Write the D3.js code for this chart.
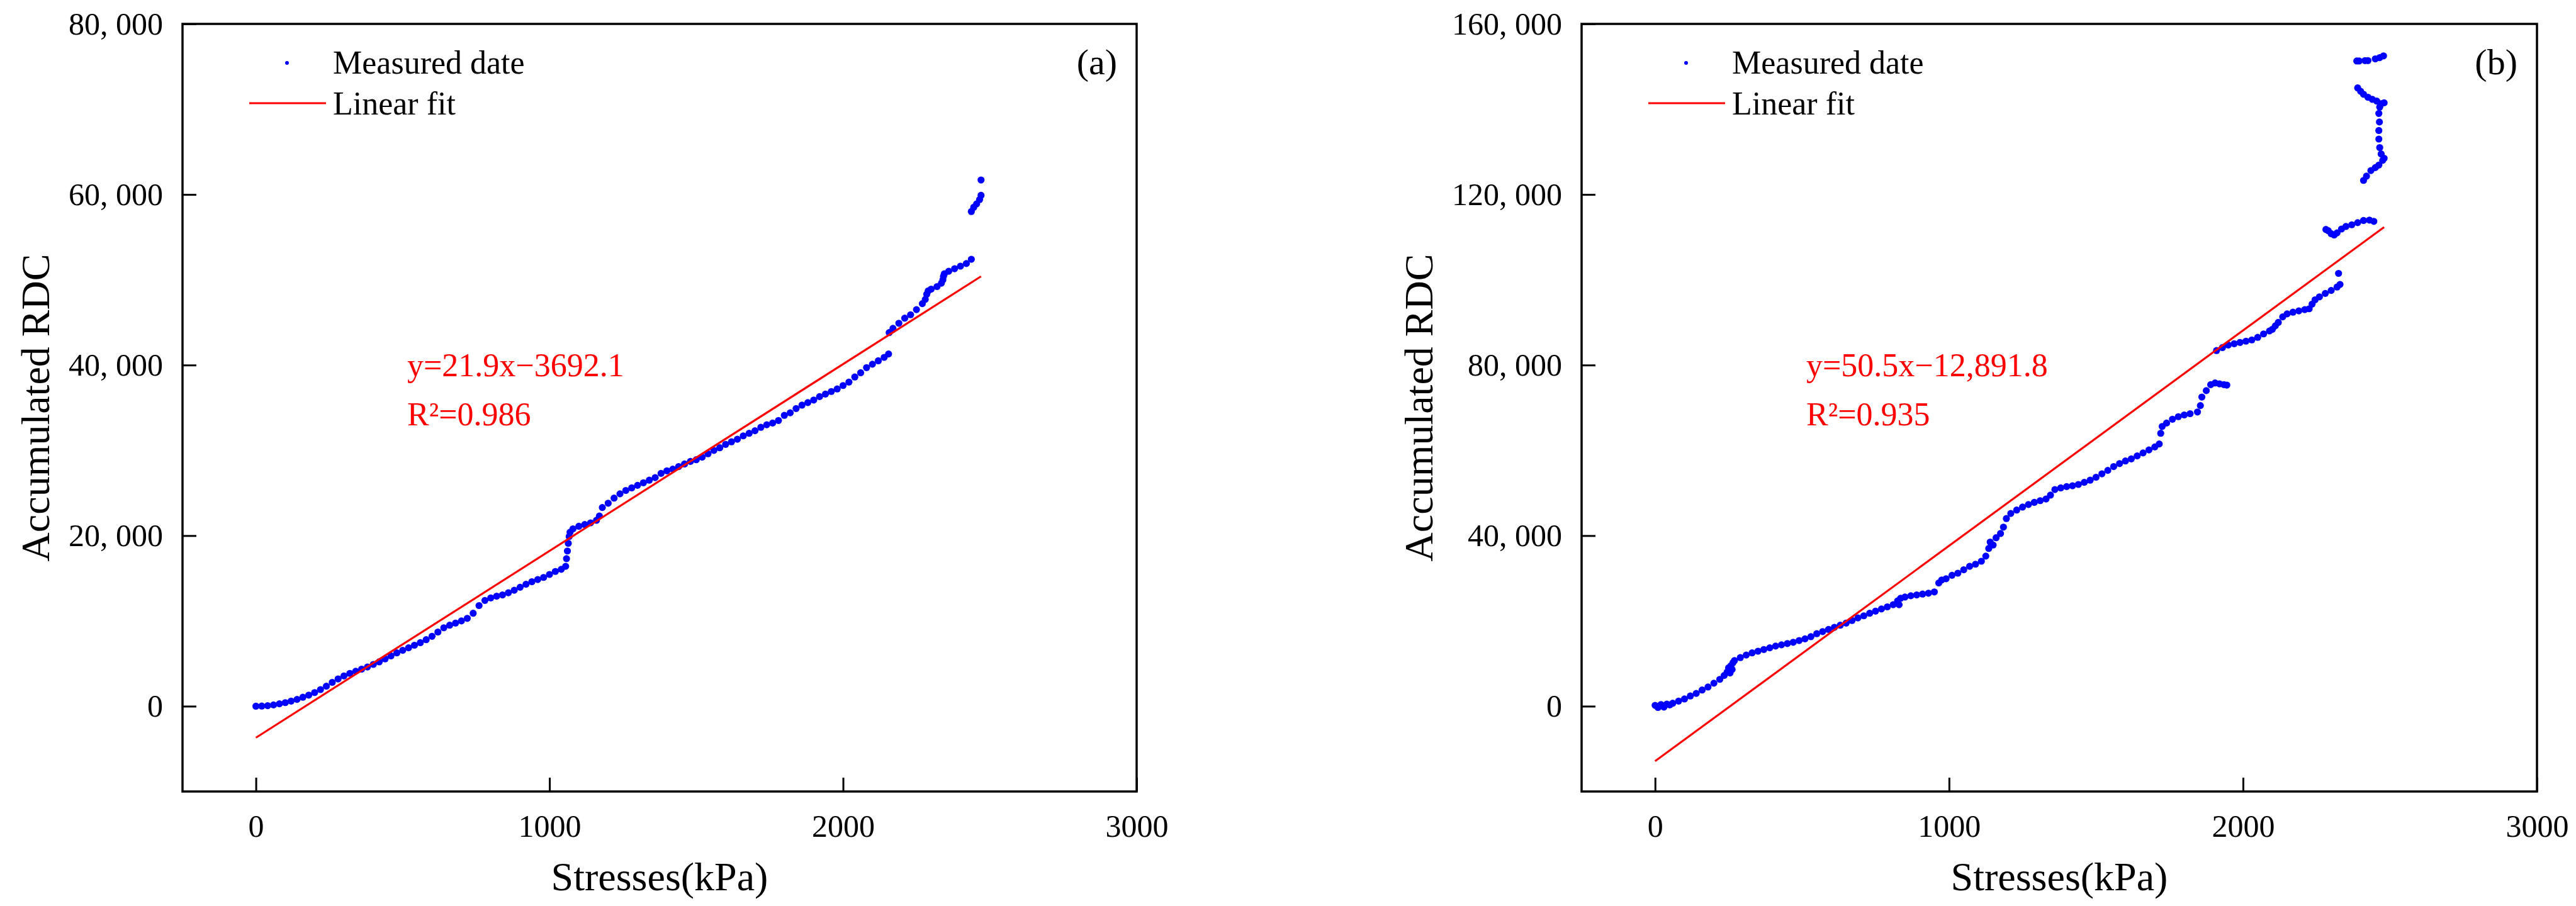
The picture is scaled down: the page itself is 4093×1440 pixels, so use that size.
<!DOCTYPE html>
<html>
<head>
<meta charset="utf-8">
<script src="https://cdnjs.cloudflare.com/ajax/libs/d3/7.8.5/d3.min.js"></script>
<style>
  html, body { margin: 0; padding: 0; background: #fff; }
  svg { display: block; }
  text { font-family: "Liberation Serif", "Times New Roman", serif; fill: #000; }
</style>
</head>
<body>
<script>
// ---------------- DATA ----------------
const xTicks = [0, 1000, 2000, 3000];
const yTicksA = [0, 20000, 40000, 60000, 80000];
const yTicksB = [0, 40000, 80000, 120000, 160000];
const xDomain = [-250, 3000];
const yDomainA = [-10000, 80000];
const yDomainB = [-20000, 160000];

const panelLabels = ["(a)", "(b)"];
const legendLabels = ["Measured date", "Linear fit"];
const xTitle = "Stresses(kPa)";
const yTitle = "Accumulated RDC";
const fitSlopes = [21.9, 50.5];
const fitIntercepts = [-3692.1, -12891.8];
const eqTexts = ["y=21.9x\u22123692.1", "y=50.5x\u221212,891.8"];
const r2Texts = ["R\u00B2=0.986", "R\u00B2=0.935"];

const stressA = [0,20,40,60,80,100,120,140,160,180,200,220,240,260,280,300,320,340,360,380,400,420,440,460,480,500,520,540,560,580,600,620,640,660,680,700,720,740,760,780,800,820,840,860,880,900,920,940,960,980,1000,1020,1040,1055,1058,1061,1064,1067,1070,1080,1100,1120,1140,1160,1170,1180,1200,1220,1240,1260,1280,1300,1320,1340,1360,1380,1400,1420,1440,1460,1480,1500,1520,1540,1560,1580,1600,1620,1640,1660,1680,1700,1720,1740,1760,1780,1800,1820,1840,1860,1880,1900,1920,1940,1960,1980,2000,2020,2040,2060,2080,2100,2120,2140,2155,2157,2170,2190,2210,2230,2250,2270,2280,2285,2290,2300,2320,2335,2340,2342,2345,2360,2380,2400,2420,2437,2437,2445,2455,2465,2470,2470];
const rdcA = [0,20,60,150,280,420,600,800,1050,1300,1600,1950,2350,2800,3200,3550,3850,4100,4350,4600,4900,5200,5550,5900,6250,6550,6850,7150,7450,7800,8200,8700,9200,9500,9750,10000,10300,10900,11800,12400,12700,12900,13050,13300,13600,13950,14300,14600,14850,15100,15450,15800,16050,16400,17300,18200,19100,19900,20400,20800,21100,21300,21500,21800,22300,23300,23800,24400,24900,25300,25600,25900,26200,26500,26800,27300,27600,27800,28100,28400,28700,28900,29200,29600,30000,30300,30700,31000,31300,31700,32000,32300,32700,33000,33200,33500,34100,34400,34900,35300,35600,35900,36300,36600,36900,37200,37600,38000,38600,39100,39700,40100,40500,40900,41300,43800,44300,44900,45500,45900,46500,47200,47700,48300,48700,48900,49200,49600,50000,50400,50700,51000,51300,51600,51900,52400,58000,58500,58900,59400,59900,61700];

const stressB = [0,10,20,30,40,50,60,80,100,120,140,160,180,200,220,235,245,250,255,258,262,265,270,290,310,330,350,370,390,410,430,450,470,490,510,530,550,570,590,610,630,650,670,690,710,730,750,770,790,810,825,830,835,850,870,890,910,930,950,965,975,990,1010,1030,1050,1070,1090,1110,1125,1135,1140,1150,1160,1175,1185,1195,1210,1230,1250,1270,1290,1310,1330,1345,1360,1380,1400,1420,1440,1460,1480,1500,1520,1540,1560,1580,1600,1620,1640,1660,1680,1700,1715,1720,1725,1740,1760,1780,1800,1820,1845,1855,1860,1875,1890,1905,1920,1935,1945,1910,1930,1950,1970,1990,2010,2030,2050,2070,2090,2100,2110,2120,2135,2150,2170,2190,2210,2225,2235,2245,2260,2280,2300,2320,2330,2325,2282,2290,2300,2310,2320,2335,2350,2370,2390,2410,2430,2445,2410,2420,2435,2450,2462,2475,2480,2470,2465,2462,2462,2464,2462,2465,2470,2480,2455,2440,2425,2410,2400,2390,2387,2395,2415,2425,2450,2465,2478];
const rdcB = [200,-300,400,-200,500,300,700,1200,1700,2400,3000,3800,4500,5400,6300,7200,8000,9000,7800,9500,8600,10200,10700,11400,12000,12500,12900,13300,13700,14100,14400,14700,15000,15400,15800,16300,17000,17500,18000,18500,19000,19500,20100,20700,21200,21800,22300,22800,23300,23800,24700,23800,25300,25600,25900,26100,26300,26500,26800,28900,29600,29900,30700,31200,32000,32800,33300,34000,35200,37000,38500,37800,39500,40500,42000,44000,45200,46000,46700,47300,47800,48200,48600,49500,50800,51200,51500,51700,52000,52500,53000,53700,54500,55300,56200,56900,57500,58000,58700,59400,60100,60800,61500,64000,65600,66400,67300,67900,68300,68600,69000,70500,72500,74000,75400,75800,75600,75400,75300,83400,84100,84700,85000,85300,85600,85900,86500,87300,88000,88400,89200,90000,91300,92000,92400,92700,93000,93200,94300,95300,96000,96800,97500,98300,98900,101500,111800,111500,110800,110500,111000,111900,112500,112900,113400,113900,114000,113700,123300,124300,125600,126300,126900,128000,128500,129500,131000,133000,135000,137000,139000,140500,141300,141500,141900,142300,142800,143500,144200,145000,151300,151300,151400,151400,151800,152100,152500];

// ---------------- DRAW ----------------
const W = 4093, H = 1440;
const svg = d3.select("body").append("svg").attr("width", W).attr("height", H);
svg.append("rect").attr("width", W).attr("height", H).attr("fill", "#fff");

const panels = [
  { left: 290, right: 1806, top: 38, bottom: 1258, yDomain: yDomainA, yTicks: yTicksA, xs: stressA, ys: rdcA },
  { left: 2513, right: 4031, top: 38, bottom: 1258, yDomain: yDomainB, yTicks: yTicksB, xs: stressB, ys: rdcB }
];
const fmt = v => d3.format(",")(v).replace(/,/g, ", ");
const FONT = '"Liberation Serif", "Times New Roman", serif';

panels.forEach((p, i) => {
  const x = d3.scaleLinear().domain(xDomain).range([p.left, p.right]);
  const y = d3.scaleLinear().domain(p.yDomain).range([p.bottom, p.top]);
  const g = svg.append("g");

  // data points
  const pts = p.xs.map((v, k) => [v, p.ys[k]]);
  g.append("g").selectAll("circle").data(pts).join("circle")
    .attr("cx", d => x(d[0])).attr("cy", d => y(d[1]))
    .attr("r", 5.6).attr("fill", "#0000ff");

  // fit line
  const ext = d3.extent(p.xs);
  const fitPts = [ext[0], ext[1]].map(v => [v, fitSlopes[i] * v + fitIntercepts[i]]);
  g.append("path").attr("d", d3.line().x(d => x(d[0])).y(d => y(d[1]))(fitPts))
    .attr("stroke", "#ff0000").attr("stroke-width", 3.2).attr("fill", "none");

  // axes
  const ax = g.append("g").attr("transform", `translate(0,${p.bottom})`)
    .call(d3.axisBottom(x).tickValues(xTicks).tickSizeInner(-22).tickSizeOuter(0).tickPadding(10).tickFormat(d3.format("d")));
  ax.select(".domain").remove();
  ax.selectAll(".tick line").attr("stroke", "#000").attr("stroke-width", 3);
  ax.selectAll(".tick text").attr("y", 72).attr("dy", null)
    .attr("font-size", 50).attr("font-family", FONT).attr("fill", "#000");

  const ay = g.append("g").attr("transform", `translate(${p.left},0)`)
    .call(d3.axisLeft(y).tickValues(p.yTicks).tickSizeInner(-22).tickSizeOuter(0).tickPadding(31).tickFormat(fmt));
  ay.select(".domain").remove();
  ay.selectAll(".tick line").attr("stroke", "#000").attr("stroke-width", 3);
  ay.selectAll(".tick text").attr("font-size", 50).attr("font-family", FONT).attr("fill", "#000");

  // frame
  g.append("rect").attr("x", p.left).attr("y", p.top)
    .attr("width", p.right - p.left).attr("height", p.bottom - p.top)
    .attr("fill", "none").attr("stroke", "#000").attr("stroke-width", 3.5);

  // axis titles
  g.append("text").attr("x", (p.left + p.right) / 2).attr("y", 1415)
    .attr("text-anchor", "middle").attr("font-size", 64).text(xTitle);
  const labW = d3.max(ay.selectAll(".tick text").nodes(), n => n.getComputedTextLength());
  const tx = p.left - 31 - labW - 52;
  g.append("text").attr("transform", `translate(${tx + 21},${(p.top + p.bottom) / 2}) rotate(-90)`)
    .attr("text-anchor", "middle").attr("font-size", 64).text(yTitle);

  // legend
  g.append("circle").attr("cx", p.left + 166).attr("cy", 100).attr("r", 3).attr("fill", "#0000ff");
  g.append("line").attr("x1", p.left + 106).attr("x2", p.left + 228).attr("y1", 164).attr("y2", 164)
    .attr("stroke", "#ff0000").attr("stroke-width", 3);
  g.append("text").attr("x", p.left + 239).attr("y", 117).attr("font-size", 52).text(legendLabels[0]);
  g.append("text").attr("x", p.left + 239).attr("y", 182).attr("font-size", 52).text(legendLabels[1]);

  // panel label
  g.append("text").attr("x", p.right - 31).attr("y", 118).attr("text-anchor", "end")
    .attr("font-size", 58).text(panelLabels[i]);

  // equation
  g.append("text").attr("x", p.left + 357).attr("y", 598).attr("font-size", 52)
    .style("fill", "#ff0000").text(eqTexts[i]);
  g.append("text").attr("x", p.left + 357).attr("y", 676).attr("font-size", 52)
    .style("fill", "#ff0000").text(r2Texts[i]);
});
</script>
</body>
</html>
